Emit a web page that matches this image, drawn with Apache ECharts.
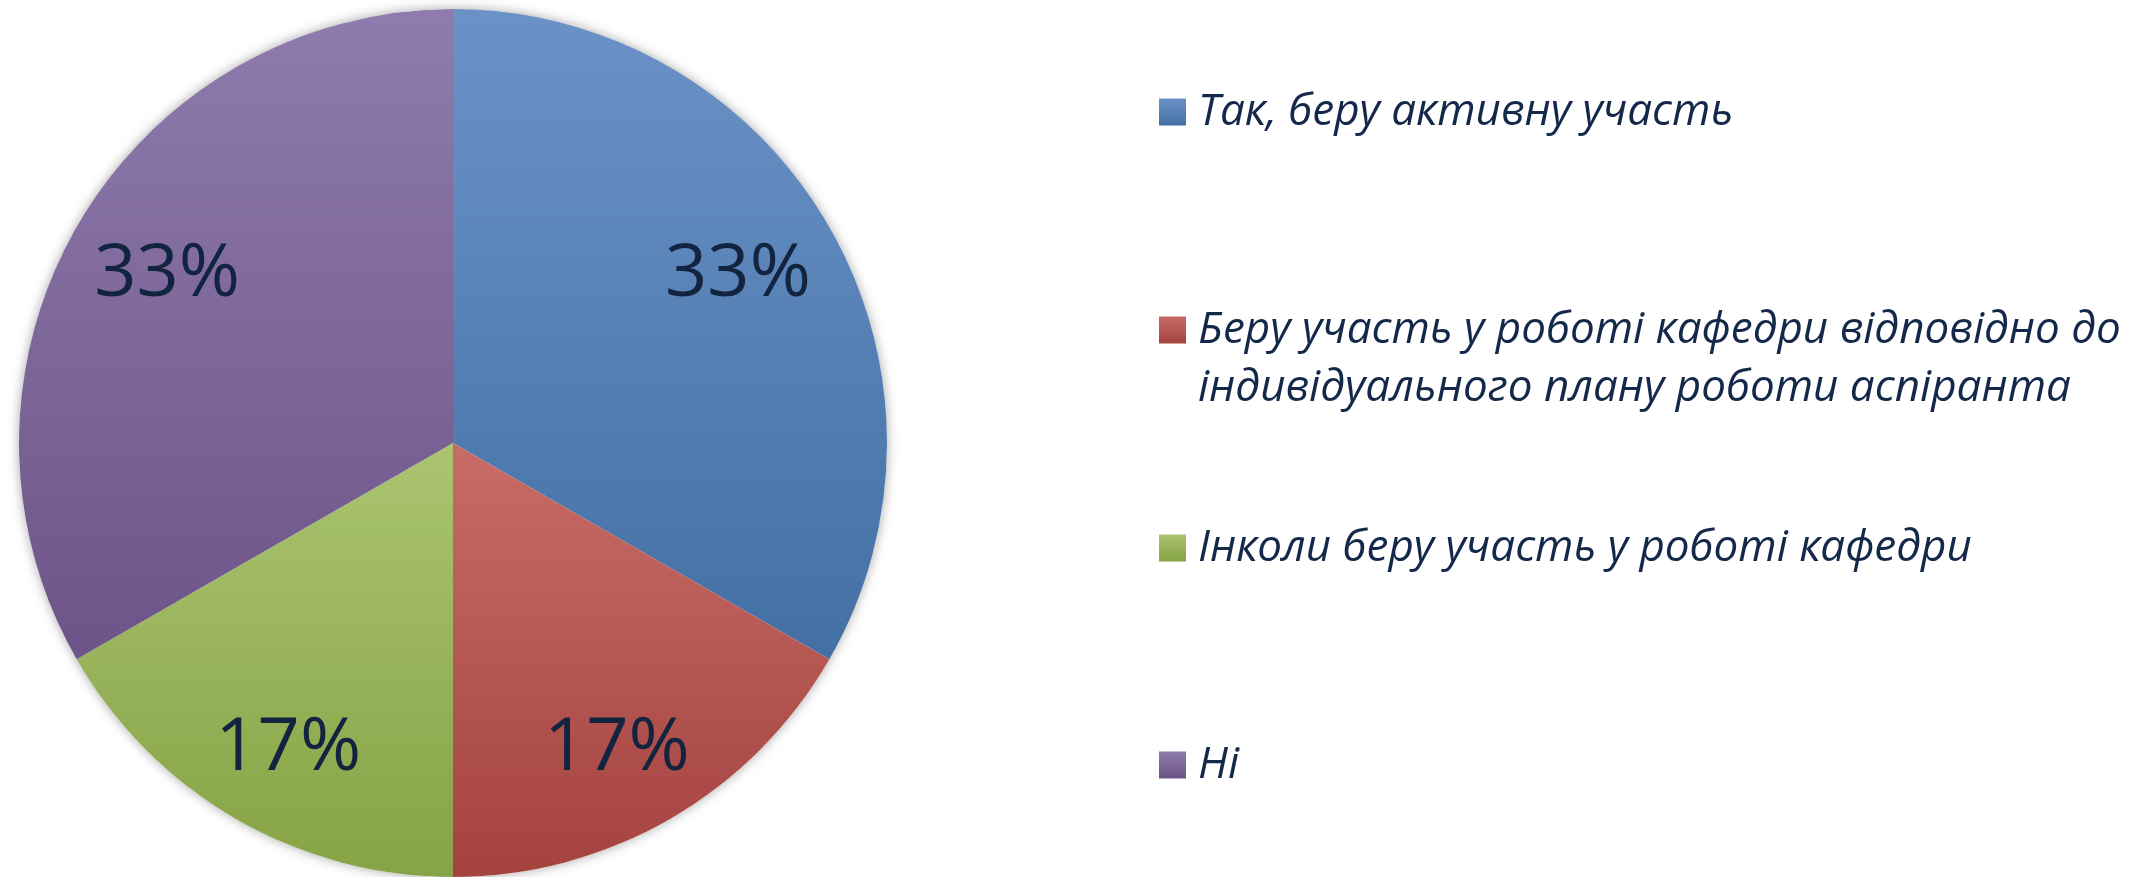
<!DOCTYPE html>
<html>
<head>
<meta charset="utf-8">
<script src="https://cdn.jsdelivr.net/npm/echarts@6/dist/echarts.min.js"></script>
<style>
html,body{margin:0;padding:0;background:#fff;}
#c{width:2129px;height:877px;}
</style>
</head>
<body>
<div id="c"></div>
<script>
const categories = [
  'Так, беру активну участь',
  'Беру участь у роботі кафедри відповідно до індивідуального плану роботи аспіранта',
  'Інколи беру участь у роботі кафедри',
  'Ні'
];
const shares = [33.3, 16.7, 16.7, 33.3];
const colorTop = ['#6B92C7', '#C86C68', '#AAC470', '#8F7BAD'];
const colorBottom = ['#4370A4', '#A4423E', '#86A345', '#6D5488'];

const textColor = '#14284A';
const R = 434;
const center = [453, 443];
// small nudges for the percentage labels (style only)
const labelPadding = [[0, 10, 0, 0], [0, 8, 0, 0], [0, 0, 0, 6], [0, 0, 0, 8]];
const labelSpacer = [0, 32, 32, 0];

function grad(i) {
  return new echarts.graphic.LinearGradient(0, 0, 0, 1, [
    { offset: 0, color: colorTop[i] },
    { offset: 1, color: colorBottom[i] }
  ]);
}

const pieData = categories.map((name, i) => ({
  name: name,
  value: shares[i],
  itemStyle: { color: grad(i) }
}));

const labelData = categories.map((name, i) => ({
  name: name + ' ',
  value: shares[i],
  label: {
    padding: labelPadding[i],
    formatter: labelSpacer[i] > 0 ? '{s| }\n{d}%' : '{d}%',
    rich: { s: { fontSize: 4, lineHeight: labelSpacer[i] || 1 } }
  }
}));

const legendCenters = [107, 325, 543, 760];
const lineH = 58;
const legends = categories.map((name, i) => {
  const twoLine = name.indexOf(' індивідуального') >= 0;
  return {
    data: [name],
    orient: 'vertical',
    left: 1154,
    top: twoLine ? legendCenters[i] - lineH * 1.5 : legendCenters[i] - lineH / 2,
    icon: 'rect',
    itemWidth: 27,
    itemHeight: 27,
    selectedMode: false,
    formatter: n => n.indexOf(' індивідуального') >= 0
      ? ' \n' + n.replace(' індивідуального', '\nіндивідуального')
      : n,
    textStyle: {
      fontFamily: 'Open Sans',
      fontStyle: 'italic',
      fontSize: 44,
      color: textColor,
      lineHeight: lineH,
      padding: [0, 0, 0, 7]
    }
  };
});

const chart = echarts.init(document.getElementById('c'), null, { renderer: 'canvas' });
chart.setOption({
  backgroundColor: '#ffffff',
  animation: false,
  legend: legends,
  series: [
    {
      type: 'pie',
      center: center,
      radius: [0, R],
      silent: true,
      z: 1,
      label: { show: false },
      labelLine: { show: false },
      data: [{ value: 1, name: '__shadow', itemStyle: { color: '#ffffff', shadowBlur: 12, shadowColor: 'rgba(0,0,0,0.35)' } }]
    },
    {
      type: 'pie',
      center: center,
      radius: [0, R],
      startAngle: 90,
      clockwise: true,
      z: 2,
      label: { show: false },
      labelLine: { show: false },
      itemStyle: { borderWidth: 0 },
      emphasis: { disabled: true },
      data: pieData
    },
    {
      type: 'pie',
      center: center,
      radius: [230, R],
      startAngle: 90,
      clockwise: true,
      silent: true,
      z: 3,
      percentPrecision: 0,
      itemStyle: { color: 'rgba(0,0,0,0)', borderWidth: 0 },
      label: {
        show: true,
        position: 'inside',
        formatter: '{d}%',
        fontFamily: 'Open Sans',
        fontSize: 74,
        color: '#12243F'
      },
      labelLine: { show: false },
      data: labelData
    }
  ]
});
</script>
</body>
</html>
